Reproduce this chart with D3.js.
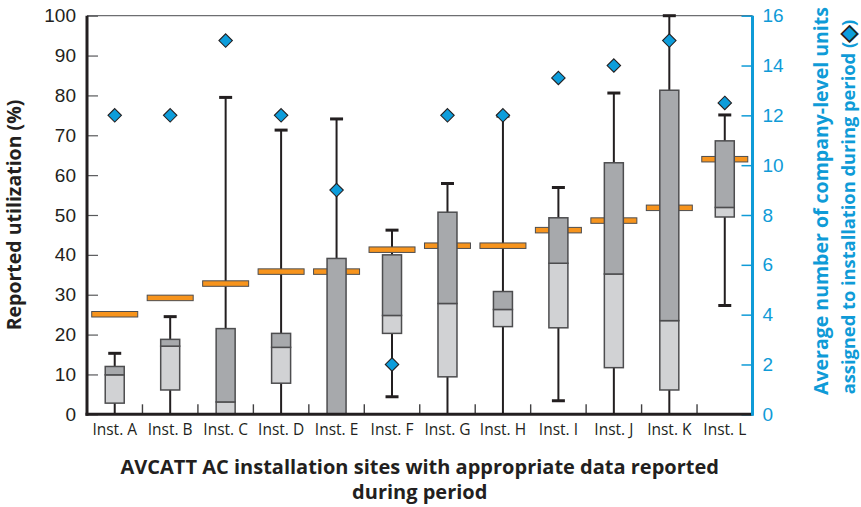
<!DOCTYPE html>
<html>
<head>
<meta charset="utf-8">
<script src="https://cdn.jsdelivr.net/npm/d3@7"></script>
<style>
  html, body { margin: 0; padding: 0; background: #fff; }
  svg { display: block; font-family: "Open Sans", "Noto Sans", sans-serif; }
</style>
</head>
<body>
<svg id="chart" width="861" height="507"></svg>
<script>
// Installation sites along the x axis
const categories = ["Inst. A", "Inst. B", "Inst. C", "Inst. D", "Inst. E", "Inst. F",
                    "Inst. G", "Inst. H", "Inst. I", "Inst. J", "Inst. K", "Inst. L"];

// Reported utilization (%) box-plot statistics per site
const whiskerLow  = [0,    0,    0,    0,    0,    4.4,  0,    0,    3.4,  0,    0,    27.3];
const q1          = [2.8,  6.1,  0,    7.8,  0,    20.3, 9.4,  22.0, 21.7, 11.7, 6.1,  49.5];
const median      = [9.9,  17.1, 3.1,  16.8, 0,    24.8, 27.8, 26.3, 37.9, 35.2, 23.5, 51.9];
const q3          = [12.0, 18.8, 21.5, 20.3, 39.1, 40.0, 50.7, 30.8, 49.3, 63.1, 81.3, 68.6];
const whiskerHigh = [15.3, 24.5, 79.5, 71.3, 74.1, 46.2, 57.9, 74.8, 56.9, 80.6, 100,  75.1];

// Mean utilization (%) per site (orange bars)
const meanUtil    = [25.1, 29.2, 32.8, 35.8, 35.8, 41.3, 42.3, 42.3, 46.2, 48.6, 51.8, 64.0];

// Average number of company-level units assigned (blue diamonds, right axis)
const unitsAssigned = [12, 12, 15, 12, 9, 2, 12, 12, 13.5, 14, 15, 12.5];

const leftTicks  = [0, 10, 20, 30, 40, 50, 60, 70, 80, 90, 100];
const rightTicks = [0, 2, 4, 6, 8, 10, 12, 14, 16];

const xTitleLines = ["AVCATT AC installation sites with appropriate data reported", "during period"];
const yTitle = "Reported utilization (%)";
const y2TitleLines = ["Average number of company-level units", "assigned to installation during period ("];

const rows = categories.map((c, i) => ({
  cat: c, lo: whiskerLow[i], q1: q1[i], med: median[i], q3: q3[i], hi: whiskerHigh[i],
  mean: meanUtil[i], units: unitsAssigned[i]
}));

const BLUE = "#0f9bd7";
const INK = "#231f20";
const plot = { left: 87, right: 752.5, top: 15.7, bottom: 414.3 };

const svg = d3.select("#chart");

const x = d3.scaleBand().domain(categories).range([plot.left, plot.right]).padding(0);
const y = d3.scaleLinear().domain([0, 100]).range([plot.bottom, plot.top]);
const y2 = d3.scaleLinear().domain([0, 16]).range([plot.bottom, plot.top]);
const cx = d => x(d.cat) + x.bandwidth() / 2;

// frame top line
svg.append("line")
  .attr("x1", plot.left).attr("x2", plot.right)
  .attr("y1", plot.top).attr("y2", plot.top)
  .attr("stroke", "#6d6e71").attr("stroke-width", 1.2);

// left axis: inward ticks, labels outside
const gL = svg.append("g").attr("transform", `translate(${plot.left},0)`)
  .call(d3.axisLeft(y).tickValues(leftTicks).tickSize(0).tickPadding(11));
gL.select(".domain").remove();
gL.selectAll("text").attr("font-size", 19).attr("fill", INK);
gL.selectAll(".tick").append("line")
  .attr("x1", 0).attr("x2", 11).attr("stroke", "#58595b").attr("stroke-width", 1.2);

// right axis in blue
const gR = svg.append("g").attr("transform", `translate(${plot.right},0)`)
  .call(d3.axisRight(y2).tickValues(rightTicks).tickSize(0).tickPadding(10));
gR.select(".domain").remove();
gR.selectAll("text").attr("font-size", 19).attr("fill", BLUE);
gR.selectAll(".tick").append("line")
  .attr("x1", 0).attr("x2", -11).attr("stroke", BLUE).attr("stroke-width", 1.5);

// category separators on the bottom axis
svg.append("g").selectAll("line")
  .data(categories.slice(1))
  .join("line")
  .attr("x1", d => x(d)).attr("x2", d => x(d))
  .attr("y1", plot.bottom).attr("y2", plot.bottom - 10)
  .attr("stroke", "#414042").attr("stroke-width", 1.4);

// whiskers
const g = svg.append("g");
g.selectAll("line.whisker")
  .data(rows).join("line").attr("class", "whisker")
  .attr("x1", cx).attr("x2", cx)
  .attr("y1", d => y(d.lo)).attr("y2", d => y(d.hi))
  .attr("stroke", INK).attr("stroke-width", 2);

// whisker caps
const caps = rows.flatMap(d => [d.lo, d.hi].filter(v => v > 0).map(v => ({ d, v })));
g.selectAll("line.cap")
  .data(caps).join("line").attr("class", "cap")
  .attr("x1", c => cx(c.d) - 6.5).attr("x2", c => cx(c.d) + 6.5)
  .attr("y1", c => y(c.v)).attr("y2", c => y(c.v))
  .attr("stroke", INK).attr("stroke-width", 3);

// mean bars
const meanW = 46, meanH = 5.5;
g.selectAll("rect.mean")
  .data(rows).join("rect").attr("class", "mean")
  .attr("x", d => cx(d) - meanW / 2).attr("width", meanW)
  .attr("y", d => y(d.mean) - meanH / 2).attr("height", meanH)
  .attr("fill", "#f7941d").attr("stroke", "#4d4d4f").attr("stroke-width", 1);

// boxes: lower part (Q1–median) light, upper part (median–Q3) dark
const boxW = 19;
g.selectAll("rect.lower")
  .data(rows).join("rect").attr("class", "lower")
  .attr("x", d => cx(d) - boxW / 2).attr("width", boxW)
  .attr("y", d => y(d.med)).attr("height", d => y(d.q1) - y(d.med))
  .attr("fill", "#d1d2d4").attr("stroke", "#4d4d4f").attr("stroke-width", 1.5);
g.selectAll("rect.upper")
  .data(rows).join("rect").attr("class", "upper")
  .attr("x", d => cx(d) - boxW / 2).attr("width", boxW)
  .attr("y", d => y(d.q3)).attr("height", d => y(d.med) - y(d.q3))
  .attr("fill", "#a7a9ac").attr("stroke", "#4d4d4f").attr("stroke-width", 1.5);

// diamonds on the right-hand scale
const diamond = d3.symbol().type(d3.symbolDiamond2).size(115);
g.selectAll("path.units")
  .data(rows).join("path").attr("class", "units")
  .attr("transform", d => `translate(${cx(d)},${y2(d.units)})`)
  .attr("d", diamond)
  .attr("fill", "#0d9ddb").attr("stroke", INK).attr("stroke-width", 1.1);

// axis lines drawn over the marks
svg.append("line")
  .attr("x1", plot.left).attr("x2", plot.left)
  .attr("y1", plot.top).attr("y2", plot.bottom + 1.5)
  .attr("stroke", INK).attr("stroke-width", 3);
svg.append("line")
  .attr("x1", plot.left - 1.5).attr("x2", plot.right)
  .attr("y1", plot.bottom).attr("y2", plot.bottom)
  .attr("stroke", INK).attr("stroke-width", 3);
svg.append("line")
  .attr("x1", plot.right).attr("x2", plot.right)
  .attr("y1", plot.top).attr("y2", plot.bottom + 1.5)
  .attr("stroke", BLUE).attr("stroke-width", 3);

// category labels
svg.append("g").selectAll("text")
  .data(categories).join("text")
  .attr("x", d => x(d) + x.bandwidth() / 2).attr("y", 435)
  .attr("text-anchor", "middle").attr("font-size", 15.5).attr("fill", INK)
  .text(d => d);

// x-axis title
svg.append("g").selectAll("text")
  .data(xTitleLines).join("text")
  .attr("x", (plot.left + plot.right) / 2)
  .attr("y", (d, i) => 474 + i * 25)
  .attr("text-anchor", "middle").attr("font-size", 20).attr("font-weight", 700).attr("fill", INK)
  .text(d => d);

// left y title
svg.append("text")
  .attr("transform", `translate(21,${(plot.top + plot.bottom) / 2}) rotate(-90)`)
  .attr("text-anchor", "middle").attr("font-size", 19.5).attr("font-weight", 700).attr("fill", INK)
  .text(yTitle);

// right y title (two lines, diamond key in the second)
const t2 = svg.append("g").attr("fill", BLUE).attr("font-weight", 700);
t2.append("text")
  .attr("transform", `translate(828,201) rotate(-90)`)
  .attr("text-anchor", "middle").attr("font-size", 19.5)
  .text(y2TitleLines[0]);
const l2 = t2.append("text")
  .attr("transform", `translate(855,207) rotate(-90)`)
  .attr("text-anchor", "middle").attr("font-size", 18.3);
l2.append("tspan").text(y2TitleLines[1]);
l2.append("tspan").attr("font-size", 21).attr("fill", "#0d9ddb")
  .attr("stroke", INK).attr("stroke-width", 0.9).text("\u25C6");
l2.append("tspan").text(")");
</script>
</body>
</html>
